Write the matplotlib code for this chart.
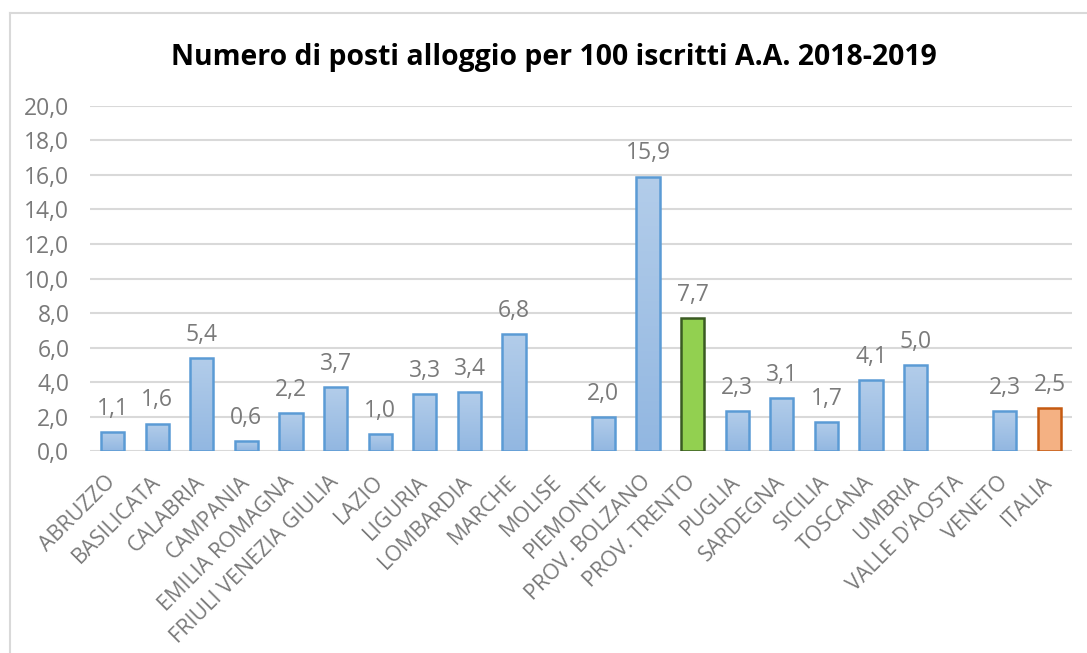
import numpy as np
import matplotlib
matplotlib.use("Agg")
import matplotlib.pyplot as plt
from matplotlib.colors import LinearSegmentedColormap
from matplotlib.lines import Line2D

regions = ["ABRUZZO", "BASILICATA", "CALABRIA", "CAMPANIA", "EMILIA ROMAGNA",
           "FRIULI VENEZIA GIULIA", "LAZIO", "LIGURIA", "LOMBARDIA", "MARCHE",
           "MOLISE", "PIEMONTE", "PROV. BOLZANO", "PROV. TRENTO", "PUGLIA",
           "SARDEGNA", "SICILIA", "TOSCANA", "UMBRIA", "VALLE D'AOSTA",
           "VENETO", "ITALIA"]
values = [1.1, 1.6, 5.4, 0.6, 2.2, 3.7, 1.0, 3.3, 3.4, 6.8,
          np.nan, 2.0, 15.9, 7.7, 2.3, 3.1, 1.7, 4.1, 5.0, np.nan,
          2.3, 2.5]
y_ticks = np.arange(0, 21, 2)

plt.rcParams['font.family'] = ['Open Sans', 'DejaVu Sans']

fig = plt.figure(figsize=(10.87, 6.53), dpi=100)
ax = fig.add_axes([0.083, 0.309, 0.903, 0.529])

x = np.arange(len(regions))
bars = ax.bar(x, np.nan_to_num(values), width=0.52, color='none', zorder=3)

blue_cmap = LinearSegmentedColormap.from_list('b', ['#92b7e1', '#b3cdea'])
grad = np.linspace(0, 1, 256).reshape(-1, 1)
for i, (b, v) in enumerate(zip(bars, values)):
    if np.isnan(v):
        continue
    name = regions[i]
    if name == "PROV. TRENTO":
        b.set_facecolor('#92d050')
        b.set_edgecolor('#3a5a22')
    elif name == "ITALIA":
        b.set_facecolor('#f4b183')
        b.set_edgecolor('#c55a11')
    else:
        x0, w, h = b.get_x(), b.get_width(), b.get_height()
        im = ax.imshow(grad, cmap=blue_cmap, aspect='auto', origin='lower',
                       extent=(x0, x0 + w, 0, h), zorder=2.5)
        im.set_clip_path(b)
        b.set_edgecolor('#5b9bd5')
    b.set_linewidth(1.8)
    ax.annotate(f"{v:.1f}".replace('.', ','), (b.get_x() + b.get_width() / 2, v),
                xytext=(0, 8), textcoords='offset points', ha='center', va='bottom',
                fontsize=16.5, color='#7a7a7a')

ax.set_xlim(-0.5, len(regions) - 0.5)
ax.set_ylim(0, 20)
ax.set_yticks(y_ticks)
ax.set_yticklabels([f"{t:.1f}".replace('.', ',') for t in y_ticks])
ax.yaxis.grid(True, color='#d9d9d9', linewidth=1.5, zorder=0)
ax.set_axisbelow(True)
for s in ax.spines.values():
    s.set_visible(False)
ax.tick_params(axis='both', length=0, labelsize=16.5, labelcolor='#7a7a7a')
ax.tick_params(axis='y', pad=15)
ax.set_xticks(x)
ax.set_xticklabels(regions, rotation=45, ha='right', va='center', rotation_mode='anchor')
ax.tick_params(axis='x', pad=20, labelsize=15.5)

fig.text(0.51, 0.912, "Numero di posti alloggio per 100 iscritti A.A. 2018-2019",
         ha='center', va='center', fontsize=20.4, fontweight='bold', color='black')

# chart frame (left and top edges visible)
fig.add_artist(Line2D([10 / 1087, 10 / 1087], [0, 1 - 13 / 653], color='#d9d9d9', lw=1.5))
fig.add_artist(Line2D([10 / 1087, 1], [1 - 13 / 653, 1 - 13 / 653], color='#d9d9d9', lw=1.5))

fig.savefig("out.png", dpi=100)
